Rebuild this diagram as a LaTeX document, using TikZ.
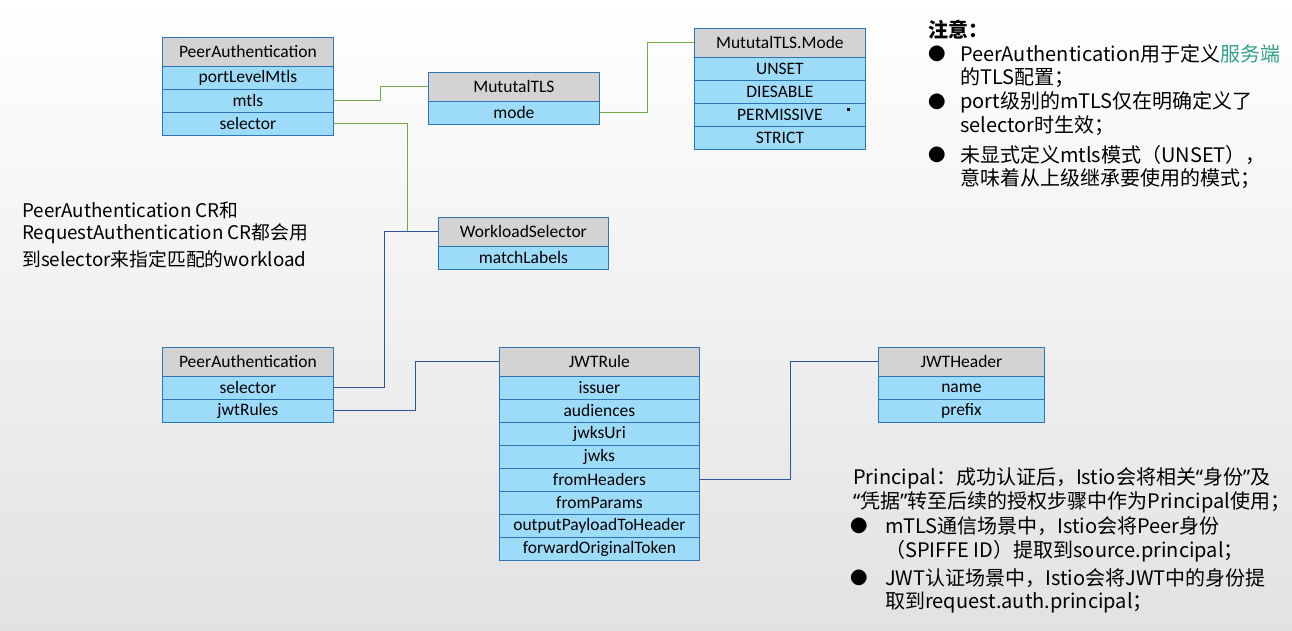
\documentclass[tikz,border=0pt]{standalone}
\usepackage{fontspec}
\newfontfamily\cjk{Noto Sans CJK SC}
\newfontfamily\tbl{Carlito}
\newfontfamily\lat{Noto Sans}
\newcommand{\myLq}{{\lat “}}
\newcommand{\myRq}{{\lat ”}}
\definecolor{bcol}{RGB}{46,117,182}
\definecolor{hgray}{RGB}{212,210,210}
\definecolor{rblue}{RGB}{157,220,249}
\definecolor{gline}{RGB}{112,173,71}
\definecolor{bline}{RGB}{47,85,151}
\definecolor{teal}{RGB}{52,160,140}
\begin{document}
\begin{tikzpicture}[x=1pt,y=-1pt,
  cell/.style={draw=bcol, line width=0.8pt, inner sep=0pt, minimum height=23pt, anchor=north west, font=\tbl\fontsize{17.5}{17.5}\selectfont, text=black},
  hd/.style={cell, fill=hgray, minimum height=29pt},
  rw/.style={cell, fill=rblue},
  gconn/.style={draw=gline, line width=0.9pt},
  bconn/.style={draw=bline, line width=1.1pt},
  note/.style={anchor=west, inner sep=0pt, font=\cjk\fontsize{20}{20}\selectfont},
  lnote/.style={anchor=west, inner sep=0pt, font=\cjk\fontsize{18.8}{18.8}\selectfont},
  bul/.style={anchor=center, inner sep=0pt, font=\cjk\fontsize{17.5}{17.5}\selectfont}]
\shade[top color=white, bottom color={rgb,255:red,226;green,226;blue,226}] (0,0) rectangle (1292,631);
\useasboundingbox (0,0) rectangle (1292,631);

% PeerAuthentication (top)
\node[hd, minimum width=171pt] (pa) at (162,37) {PeerAuthentication};
\node[rw, minimum width=171pt] (paport) at (162,66) {portLevelMtls};
\node[rw, minimum width=171pt] (pamtls) at (162,89) {mtls};
\node[rw, minimum width=171pt] (pasel) at (162,112) {selector};

% MututalTLS
\node[hd, minimum width=171pt] (mt) at (428,72) {MututalTLS};
\node[rw, minimum width=171pt] (mtmode) at (428,101) {mode};

% MututalTLS.Mode
\node[hd, minimum width=171pt] (md) at (694,28) {MututalTLS.Mode};
\node[rw, minimum width=171pt] (md1) at (694,57) {UNSET};
\node[rw, minimum width=171pt] (md2) at (694,80) {DIESABLE};
\node[rw, minimum width=171pt] (md3) at (694,103) {PERMISSIVE};
\node[rw, minimum width=171pt] (md4) at (694,126) {STRICT};
\fill (846.5,108.5) rectangle (849.5,111.5);

% WorkloadSelector
\node[hd, minimum width=170pt] (ws) at (438,217) {WorkloadSelector};
\node[rw, minimum width=170pt] (wsml) at (438,246) {matchLabels};

% PeerAuthentication (bottom)
\node[hd, minimum width=171pt] (pb) at (162,347) {PeerAuthentication};
\node[rw, minimum width=171pt] (pbsel) at (162,376) {selector};
\node[rw, minimum width=171pt] (pbjwt) at (162,399) {jwtRules};

% JWTRule
\node[hd, minimum width=200pt] (jr) at (499,347) {JWTRule};
\node[rw, minimum width=200pt] (jr1) at (499,376) {issuer};
\node[rw, minimum width=200pt] (jr2) at (499,399) {audiences};
\node[rw, minimum width=200pt] (jr3) at (499,422) {jwksUri};
\node[rw, minimum width=200pt] (jr4) at (499,445) {jwks};
\node[rw, minimum width=200pt] (jr5) at (499,468) {fromHeaders};
\node[rw, minimum width=200pt] (jr6) at (499,491) {fromParams};
\node[rw, minimum width=200pt] (jr7) at (499,514) {outputPayloadToHeader};
\node[rw, minimum width=200pt] (jr8) at (499,537) {forwardOriginalToken};

% JWTHeader
\node[hd, minimum width=166pt] (jh) at (878,347) {JWTHeader};
\node[rw, minimum width=166pt] (jh1) at (878,376) {name};
\node[rw, minimum width=166pt] (jh2) at (878,399) {prefix};

% connectors
\draw[gconn] (pamtls.east) -- ++(47,0) |- (mt.west);
\draw[gconn] (mtmode.east) -- ++(48,0) |- (md.west);
\draw[gconn] (pasel.east) -- ++(74,0) |- (ws.west);
\draw[bconn] (pbsel.east) -- ++(51,0) |- (ws.west);
\draw[bconn] (pbjwt.east) -- ++(82,0) |- (jr.west);
\draw[bconn] (jr5.east) -- ++(91,0) |- (jh.west);

% left text
\node[lnote] (lt1) at (22,210) {PeerAuthentication CR和};
\node[lnote] (lt2) at (22,234) {RequestAuthentication CR都会用};
\node[lnote] (lt3) at (22,259) {到selector来指定匹配的workload};

% notes top right
\node[note] (n0) at (928,30) {\textbf{注意：}};
\node[bul] (b1) at (937,54) {●};
\node[note] (n1) at (960,54) {PeerAuthentication用于定义\textcolor{teal}{服务端}};
\node[note] (n2) at (960,78) {的TLS配置；};
\node[bul] (b2) at (937,102) {●};
\node[note] (n3) at (960,102) {port级别的mTLS仅在明确定义了};
\node[note] (n4) at (960,126) {selector时生效；};
\node[bul] (b3) at (937,155) {●};
\node[note] (n5) at (960,155) {未显式定义mtls模式（UNSET），};
\node[note] (n6) at (960,179) {意味着从上级继承要使用的模式；};

% notes bottom right
\node[note] (p1) at (853,478) {Principal：成功认证后，Istio会将相关\myLq 身份\myRq 及};
\node[note] (p2) at (853,502) {\myLq 凭据\myRq 转至后续的授权步骤中作为Principal使用；};
\node[bul] (pb1) at (859,526) {●};
\node[note] (p3) at (885,526) {mTLS通信场景中，Istio会将Peer身份};
\node[note] (p4) at (885,551) {（SPIFFE ID）提取到source.principal；};
\node[bul] (pb2) at (859,578) {●};
\node[note] (p5) at (885,578) {JWT认证场景中，Istio会将JWT中的身份提};
\node[note] (p6) at (885,603) {取到request.auth.principal；};
\end{tikzpicture}
\end{document}
